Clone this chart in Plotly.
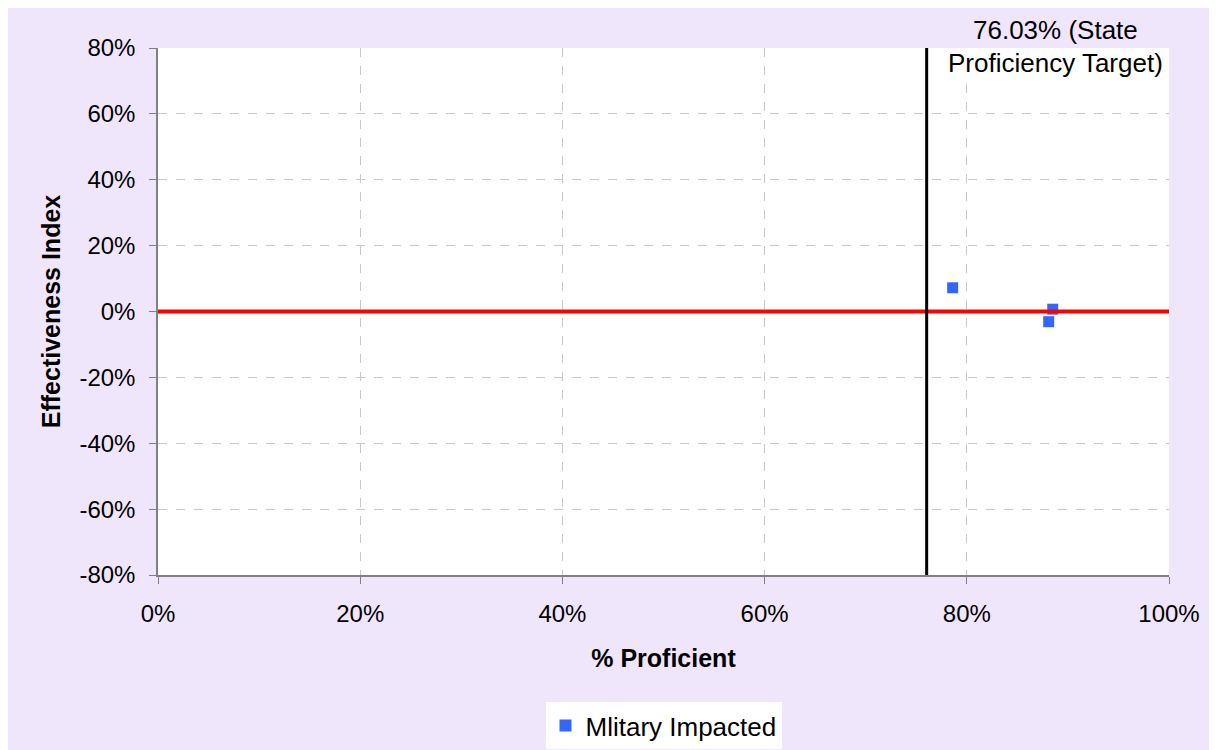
import plotly.graph_objects as go

# Data
series_name = "Mlitary Impacted"
pct_proficient = [78.6, 88.5, 88.1]
effectiveness = [7.2, 0.7, -3.1]
target = 76.03
target_label_1 = "76.03% (State"
target_label_2 = "Proficiency Target)"
x_ticks = [0, 20, 40, 60, 80, 100]
y_ticks = [-80, -60, -40, -20, 0, 20, 40, 60, 80]

FONT = "Liberation Sans, Arial, sans-serif"
BG = "#F0E6FC"

fig = go.Figure()
fig.add_trace(go.Scatter(
    x=pct_proficient, y=effectiveness, mode="markers", name=series_name,
    marker=dict(symbol="square", size=11, color="#3366FF"),
    showlegend=True,
))

# white block behind the annotation inside the plot
fig.add_shape(type="rect", xref="x", yref="y", x0=77.6, x1=99.85, y0=70.3, y1=80,
              fillcolor="white", line=dict(width=0), layer="between")
# horizontal zero line
fig.add_shape(type="line", xref="paper", yref="y", x0=0, x1=1, y0=0, y1=0,
              line=dict(color="#FF0000", width=4))
# vertical target line
fig.add_shape(type="line", xref="x", yref="paper", x0=target, x1=target, y0=0, y1=1,
              line=dict(color="#000000", width=3))

PH = 527.0
fig.add_annotation(x=0.888, xref="paper", y=1.0 + (48 - 30) / PH, yref="paper",
                   text=target_label_1, showarrow=False, xanchor="center", yanchor="middle",
                   font=dict(family=FONT, size=26, color="black"))
fig.add_annotation(x=0.888, xref="paper", y=1.0 - (63 - 48) / PH, yref="paper",
                   text=target_label_2, showarrow=False, xanchor="center", yanchor="middle",
                   font=dict(family=FONT, size=26, color="black"))

axis_common = dict(
    showgrid=True, gridcolor="#C8C8C8", griddash="dash", gridwidth=1,
    zeroline=False, showline=True, linecolor="#808080", linewidth=1.5,
    ticks="outside", ticklen=7, tickcolor="#808080",
    tickfont=dict(family=FONT, size=24, color="black"),
)

fig.update_xaxes(range=[0, 100], tickmode="array", tickvals=x_ticks,
                 ticktext=[f"{v}%" for v in x_ticks], ticklabelstandoff=9, **axis_common,
                 title=dict(text="<b>% Proficient</b>", font=dict(family=FONT, size=25, color="black"),
                            standoff=24))
fig.update_yaxes(range=[-80, 80], tickmode="array", tickvals=y_ticks,
                 ticktext=[f"{v}%" for v in y_ticks], ticklabelstandoff=9, **axis_common,
                 title=dict(text="<b>Effectiveness Index</b>", font=dict(family=FONT, size=25, color="black"),
                            standoff=12))

fig.update_layout(
    width=1209, height=742,
    margin=dict(l=150, r=48, t=40, b=175, autoexpand=False),
    paper_bgcolor=BG, plot_bgcolor="white",
    font=dict(family=FONT, size=24, color="black"),
    showlegend=True,
    legend=dict(orientation="h", x=0.5, xanchor="center",
                yref="container", y=1 - (702 - 8) / 742, yanchor="top",
                bgcolor="white", font=dict(family=FONT, size=26, color="black"),
                itemsizing="constant"),
)

fig.write_html("out.html")
